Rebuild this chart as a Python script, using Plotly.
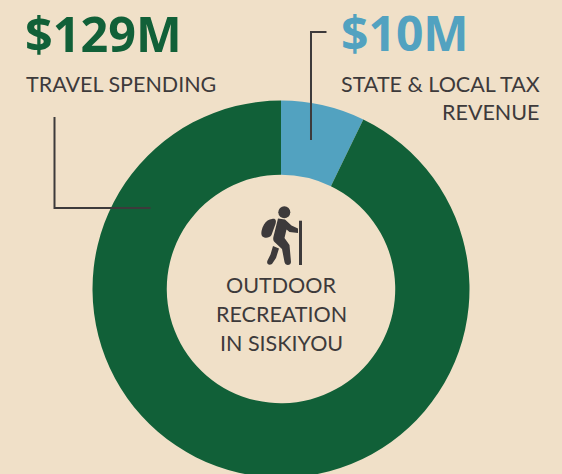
import plotly.graph_objects as go

segments = ["State & local tax revenue", "Travel spending"]
values = [10, 129]
colors = ["#52A2C0", "#116038"]
BG = "#F0E0C8"
INK = "#3D3A3B"
W, H = 562, 480
BODY = "Lato"
HEAD = "Noto Sans"

def px(x): return x / W
def py(y): return 1 - y / H
def pth(cmds):
    out = []
    for c in cmds:
        if isinstance(c, str): out.append(c)
        else: out.append(f"{px(c[0]):.5f},{py(c[1]):.5f}")
    return " ".join(out)

fig = go.Figure(go.Pie(
    labels=segments, values=values, hole=0.606, sort=False, direction="clockwise", rotation=0,
    marker=dict(colors=colors, line=dict(width=0)), textinfo="none", hoverinfo="label+value",
    showlegend=False,
    domain=dict(x=[px(92.5), px(469.5)], y=[py(477.5), py(100.5)]),
))

anns = []
def text(x, y, s, size, color, anchor="left", font=BODY, bold=False):
    anns.append(dict(x=px(x), y=py(y), xref="paper", yref="paper", text=f"<b>{s}</b>" if bold else s,
                     showarrow=False, xanchor=anchor, yanchor="middle", xshift=0,
                     borderpad=0, font=dict(size=size, color=color, family=font)))

text(24, 33, "$129M", 48.5, "#116038", font=HEAD, bold=True)
text(340, 33, "$10M", 48, "#52A2C0", font=HEAD, bold=True)
text(25, 84, "TRAVEL SPENDING", 21.5, INK)
text(541, 84, "STATE &amp; LOCAL TAX", 21.5, INK, anchor="right")
text(541, 112, "REVENUE", 21.5, INK, anchor="right")
text(281, 285, "OUTDOOR", 21.5, INK, anchor="center")
text(281, 314, "RECREATION", 21.5, INK, anchor="center")
text(281, 343, "IN SISKIYOU", 21.5, INK, anchor="center")

line = dict(color=INK, width=2)
hiker = [
    ["M", (272.0, 219.0), "C", (276.0, 218.0), (276.5, 221.0), (275.5, 224.0), "L", (271.5, 235.0),
     "C", (269.5, 238.5), (264.0, 238.5), (262.0, 236.0), "C", (260.5, 233.0), (262.0, 228.0), (264.0, 224.5),
     "C", (266.0, 221.0), (269.0, 219.5), (272.0, 219.0), "Z"],
    ["M", (278.0, 218.5), "L", (285.0, 219.5), "L", (291.5, 225.5), "L", (298.0, 228.5), "L", (298.0, 233.0),
     "L", (289.5, 232.0), "L", (286.5, 229.5), "L", (284.5, 238.0), "L", (289.5, 245.0), "L", (291.0, 262.0),
     "C", (291.0, 266.0), (285.0, 266.0), (284.5, 262.0), "L", (282.0, 249.0), "L", (274.5, 242.0),
     "C", (273.0, 240.5), (273.0, 238.0), (273.5, 236.5), "Z"],
    ["M", (273.0, 246.0), "L", (279.0, 248.5), "L", (276.0, 258.0), "L", (272.0, 264.0),
     "C", (269.0, 266.0), (266.0, 264.0), (267.5, 260.5), "L", (270.5, 254.5), "Z"],
]
shapes = [
    dict(type="path", xref="paper", yref="paper", path=pth(["M", (326.5, 32), "L", (311, 32), "L", (311, 140)]), line=line),
    dict(type="path", xref="paper", yref="paper", path=pth(["M", (54.5, 117), "L", (54.5, 208), "L", (150.5, 208)]), line=line),
    dict(type="circle", xref="paper", yref="paper", x0=px(278.3), x1=px(290.3), y0=py(218.3), y1=py(206.3),
         fillcolor=INK, line=dict(width=0)),
    dict(type="rect", xref="paper", yref="paper", x0=px(299), x1=px(302), y0=py(265), y1=py(220.7),
         fillcolor=INK, line=dict(width=0)),
]
for h in hiker:
    shapes.append(dict(type="path", xref="paper", yref="paper", path=pth(h), fillcolor=INK, line=dict(width=0)))

fig.update_layout(width=W, height=H, margin=dict(l=0, r=0, t=0, b=0), paper_bgcolor=BG, plot_bgcolor=BG,
                  autosize=False, annotations=anns, shapes=shapes)
fig.write_html("out.html", config=dict(displayModeBar=False),
               post_script="document.body.style.margin='0';document.body.style.overflow='hidden';document.documentElement.style.overflow='hidden';")
